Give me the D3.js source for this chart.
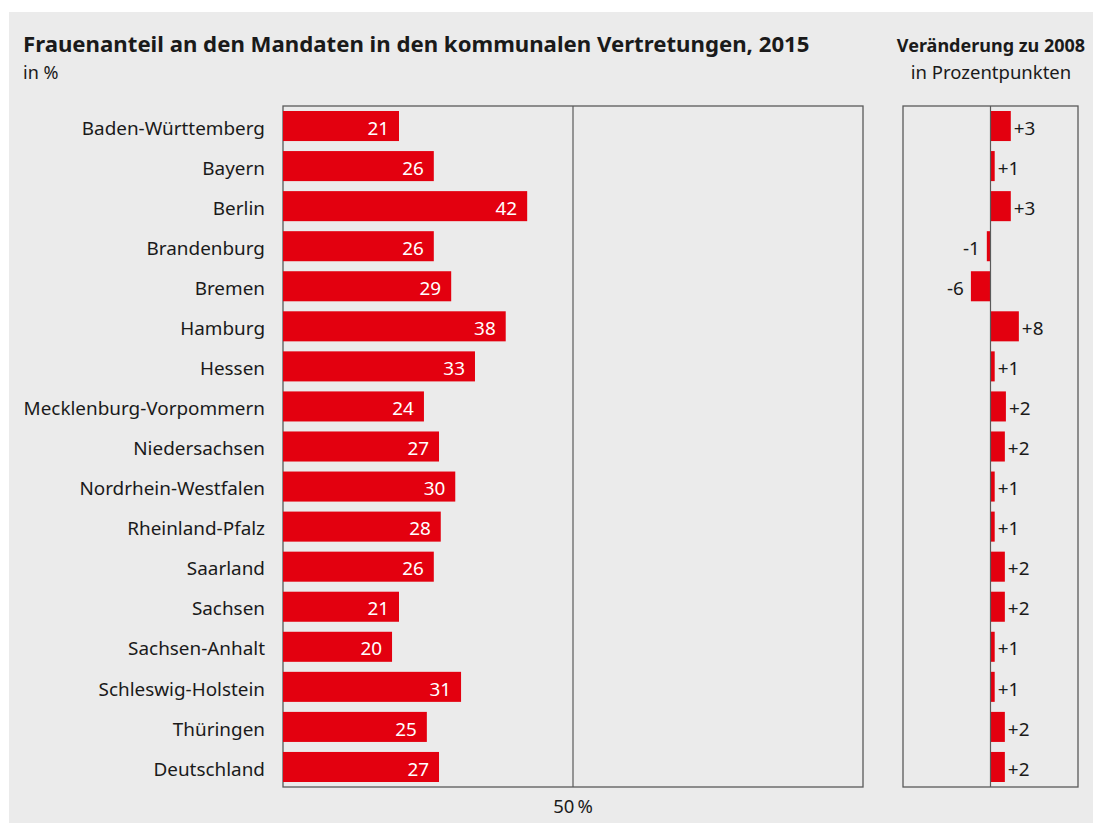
<!DOCTYPE html>
<html>
<head>
<meta charset="utf-8">
<script src="https://cdn.jsdelivr.net/npm/d3@7"></script>
<style>
  body { margin: 0; background: #fff; }
  text { font-family: "Noto Sans", sans-serif; fill: #1a1a1a; }
</style>
</head>
<body>
<div id="chart"></div>
<script>
// data
var laender = ["Baden-Württemberg", "Bayern", "Berlin", "Brandenburg", "Bremen", "Hamburg", "Hessen",
  "Mecklenburg-Vorpommern", "Niedersachsen", "Nordrhein-Westfalen", "Rheinland-Pfalz", "Saarland",
  "Sachsen", "Sachsen-Anhalt", "Schleswig-Holstein", "Thüringen", "Deutschland"];
// bar lengths as drawn
var anteil = [20.0, 26.0, 42.1, 26.0, 29.0, 38.4, 33.1, 24.3, 26.9, 29.7, 27.2, 26.0, 20.0, 18.8, 30.7, 24.8, 26.9];
// printed labels
var anteilLabel = ["21", "26", "42", "26", "29", "38", "33", "24", "27", "30", "28", "26", "21", "20", "31", "25", "27"];
var veraenderung = [5.8, 1.2, 5.8, -1.05, -5.6, 8.1, 1.2, 4.4, 4.1, 1.2, 1.2, 4.1, 4.1, 1.2, 1.2, 4.1, 4.1];
var veraenderungLabel = ["+3", "+1", "+3", "-1", "-6", "+8", "+1", "+2", "+2", "+1", "+1", "+2", "+2", "+1", "+1", "+2", "+2"];
var xTicks = [50];

var W = 1093, H = 823;
var red = "#e3000f", frame = "#5a5a5a";

var svg = d3.select("#chart").append("svg")
    .attr("width", W)
    .attr("height", H);

svg.append("rect")
    .attr("x", 9).attr("y", 12)
    .attr("width", W - 9).attr("height", H - 12)
    .style("fill", "#ebebeb");

// titles
svg.append("text").attr("x", 23).attr("y", 52)
    .style("font-size", "22.2px").style("font-weight", "bold")
    .text("Frauenanteil an den Mandaten in den kommunalen Vertretungen, 2015");
svg.append("text").attr("x", 23).attr("y", 79)
    .style("font-size", "18px")
    .text("in %");
svg.append("text").attr("x", 991).attr("y", 52)
    .attr("text-anchor", "middle")
    .style("font-size", "18px").style("font-weight", "bold")
    .text("Veränderung zu 2008");
svg.append("text").attr("x", 991).attr("y", 79)
    .attr("text-anchor", "middle")
    .style("font-size", "18.5px")
    .text("in Prozentpunkten");

var plotTop = 106, plotBottom = 787;

var y = d3.scaleBand()
    .domain(laender)
    .range([plotTop, plotBottom])
    .paddingInner(0.25)
    .paddingOuter(0.125);

// left panel
var x = d3.scaleLinear().domain([0, 100]).range([283, 863]);

svg.append("rect")
    .attr("x", x(0)).attr("y", plotTop)
    .attr("width", x(100) - x(0)).attr("height", plotBottom - plotTop)
    .style("fill", "none").style("stroke", frame).style("stroke-width", 1.3);

svg.selectAll(".gridline")
    .data(xTicks)
  .enter().append("line")
    .attr("class", "gridline")
    .attr("x1", function(d) { return x(d); }).attr("x2", function(d) { return x(d); })
    .attr("y1", plotTop).attr("y2", plotBottom)
    .style("stroke", frame).style("stroke-width", 1.2);

svg.selectAll(".ticklabel")
    .data(xTicks)
  .enter().append("text")
    .attr("class", "ticklabel")
    .attr("x", function(d) { return x(d); })
    .attr("y", 813)
    .attr("text-anchor", "middle")
    .style("font-size", "18.5px")
    .text(function(d) { return d + "\u2009%"; });

svg.selectAll(".cat")
    .data(laender)
  .enter().append("text")
    .attr("class", "cat")
    .attr("x", 265)
    .attr("y", function(d) { return y(d) + y.bandwidth() / 2; })
    .attr("dy", "0.46em")
    .attr("text-anchor", "end")
    .style("font-size", "18.9px")
    .text(function(d) { return d; });

svg.selectAll(".bar")
    .data(anteil)
  .enter().append("rect")
    .attr("class", "bar")
    .attr("x", x(0))
    .attr("y", function(d, i) { return y(laender[i]); })
    .attr("width", function(d) { return x(d) - x(0); })
    .attr("height", y.bandwidth())
    .style("fill", red);

svg.selectAll(".barlabel")
    .data(anteil)
  .enter().append("text")
    .attr("class", "barlabel")
    .attr("x", function(d) { return x(d) - 10; })
    .attr("y", function(d, i) { return y(laender[i]) + y.bandwidth() / 2; })
    .attr("dy", "0.46em")
    .attr("text-anchor", "end")
    .style("font-size", "18.9px")
    .style("fill", "#fff")
    .text(function(d, i) { return anteilLabel[i]; });

// right panel
var x2 = d3.scaleLinear().domain([-25, 25]).range([903, 1078]);

svg.append("rect")
    .attr("x", x2(-25)).attr("y", plotTop)
    .attr("width", x2(25) - x2(-25)).attr("height", plotBottom - plotTop)
    .style("fill", "none").style("stroke", frame).style("stroke-width", 1.3);

svg.selectAll(".dbar")
    .data(veraenderung)
  .enter().append("rect")
    .attr("class", "dbar")
    .attr("x", function(d) { return x2(Math.min(0, d)); })
    .attr("y", function(d, i) { return y(laender[i]); })
    .attr("width", function(d) { return Math.abs(x2(d) - x2(0)); })
    .attr("height", y.bandwidth())
    .style("fill", red);

svg.append("line")
    .attr("x1", x2(0)).attr("x2", x2(0))
    .attr("y1", plotTop).attr("y2", plotBottom)
    .style("stroke", frame).style("stroke-width", 1.2);

svg.selectAll(".dlabel")
    .data(veraenderung)
  .enter().append("text")
    .attr("class", "dlabel")
    .attr("x", function(d) { return d < 0 ? x2(d) - 7 : x2(d) + 3; })
    .attr("y", function(d, i) { return y(laender[i]) + y.bandwidth() / 2; })
    .attr("dy", "0.46em")
    .attr("text-anchor", function(d) { return d < 0 ? "end" : "start"; })
    .style("font-size", "18.9px")
    .text(function(d, i) { return veraenderungLabel[i]; });
</script>
</body>
</html>
